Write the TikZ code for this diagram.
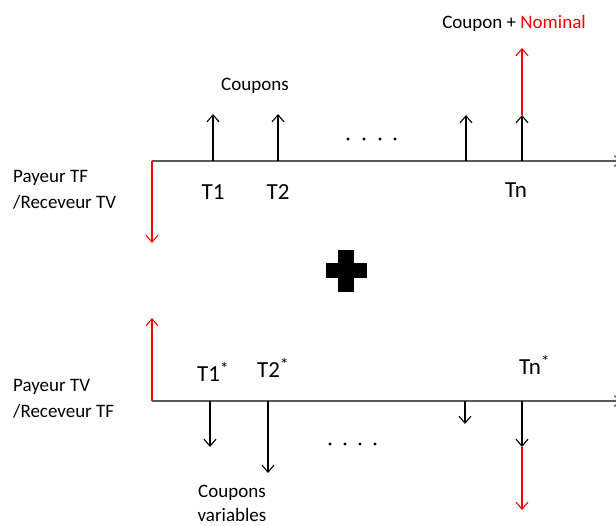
\documentclass[tikz,border=0pt]{standalone}
\usepackage{fontspec}
\setmainfont{Carlito}
\usetikzlibrary{arrows.meta}
\definecolor{axisgray}{HTML}{595959}
\definecolor{nomred}{HTML}{FF0000}
\newcommand{\mystar}{\raisebox{0.3em}{\fontsize{17}{17}\selectfont *}}
\tikzset{
  flow/.style={line width=1.1pt, -{Straight Barb[length=7pt,width=12pt,line width=1.1pt]}},
  axisline/.style={axisgray, line width=1.4pt, -{Straight Barb[length=6pt,width=11pt,line width=1.1pt]}},
  small/.style={font=\fontsize{19}{21}\selectfont, inner sep=0pt},
  big/.style={font=\fontsize{23}{25}\selectfont, inner sep=0pt},
  dot/.style={circle, fill=black, inner sep=0pt, minimum size=3.4pt},
}
\begin{document}
\begin{tikzpicture}[x=1pt,y=-1pt]
\useasboundingbox (0,0) rectangle (616,525);
% ---------- top leg ----------
\coordinate (a0) at (152,161);
\coordinate (aend) at (621,161);
\draw[axisline] (a0) -- (aend);
\coordinate (a0d) at (152,243);
\draw[flow, nomred] (a0) -- (a0d);
\coordinate (a1) at (213,161); \coordinate (a1u) at (213,114);
\coordinate (a2) at (278,161); \coordinate (a2u) at (278,114);
\coordinate (a3) at (466,161); \coordinate (a3u) at (466,115);
\coordinate (a4) at (522,161); \coordinate (a4u) at (522,115);
\coordinate (a4n) at (522,48);
\draw[flow, nomred] (a4u) -- (a4n);
\draw[flow] (a1) -- (a1u);
\draw[flow] (a2) -- (a2u);
\draw[flow] (a3) -- (a3u);
\draw[flow] (a4) -- (a4u);
\node[dot] (d1) at (348,139) {};
\node[dot] (d2) at (364,139) {};
\node[dot] (d3) at (380,139) {};
\node[dot] (d4) at (395,139) {};
\node[small] (coupons) at (255,86) {Coupons};
\node[small] (cpnom) at (514,23) {Coupon + \textcolor{nomred}{Nominal}};
\node[big] (t1) at (213,192) {T1};
\node[big] (t2) at (278,192) {T2};
\node[big] (tn) at (516,190) {Tn};
\node[small, anchor=west] (pay1) at (13,178) {Payeur TF};
\node[small, anchor=west] (rec1) at (13,202) {/Receveur TV};
% ---------- plus ----------
\fill (326,263) rectangle (367,278);
\fill (338,250) rectangle (354,292);
% ---------- bottom leg ----------
\coordinate (b0) at (152,401);
\coordinate (bend) at (621,401);
\draw[axisline] (b0) -- (bend);
\coordinate (b0u) at (152,318);
\draw[flow, nomred] (b0) -- (b0u);
\coordinate (b1) at (210,401); \coordinate (b1d) at (210,447);
\coordinate (b2) at (268,401); \coordinate (b2d) at (268,473);
\coordinate (b3) at (465,401); \coordinate (b3d) at (465,424);
\coordinate (b4) at (522,401); \coordinate (b4d) at (522,447);
\coordinate (b4n) at (522,510);
\draw[flow, nomred] (b4d) -- (b4n);
\draw[flow] (b1) -- (b1d);
\draw[flow] (b2) -- (b2d);
\draw[flow] (b3) -- (b3d);
\draw[flow] (b4) -- (b4d);
\node[dot] (e1) at (330,444) {};
\node[dot] (e2) at (345,444) {};
\node[dot] (e3) at (360,444) {};
\node[dot] (e4) at (375,444) {};
\node[big, anchor=west] (t1s) at (197,372) {T1\mystar};
\node[big, anchor=west] (t2s) at (257,368) {T2\mystar};
\node[big, anchor=west] (tns) at (519,365) {Tn\mystar};
\node[small, anchor=west] (pay2) at (13,387) {Payeur TV};
\node[small, anchor=west] (rec2) at (13,411) {/Receveur TF};
\node[small] (cv1) at (232,493) {Coupons};
\node[small] (cv2) at (232,515) {variables};
\end{tikzpicture}
\end{document}
